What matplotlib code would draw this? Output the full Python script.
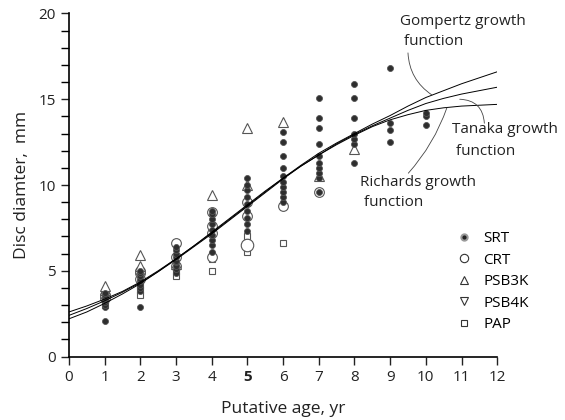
import matplotlib.pyplot as plt
from matplotlib.lines import Line2D

plt.rcParams['font.family'] = ['Open Sans', 'DejaVu Sans']

# growth curves (age, disc diameter)
curve_age = [0, 0.5, 1, 1.5, 2, 2.5, 3, 3.5, 4, 4.5, 5, 5.5, 6, 6.5, 7, 7.5, 8,
             8.5, 9, 9.5, 10, 10.5, 11, 11.5, 12]
gompertz = [2.6, 2.95, 3.35, 3.8, 4.35, 5.0, 5.7, 6.45, 7.2, 8.0, 8.8, 9.6, 10.4,
            11.15, 11.85, 12.45, 13.0, 13.55, 14.05, 14.6, 15.1, 15.5, 15.9, 16.25, 16.6]
tanaka = [2.4, 2.8, 3.25, 3.75, 4.3, 4.95, 5.65, 6.4, 7.15, 7.95, 8.75, 9.55, 10.35,
          11.1, 11.75, 12.4, 12.95, 13.45, 13.9, 14.35, 14.75, 15.05, 15.3, 15.5, 15.7]
richards = [2.2, 2.6, 3.1, 3.65, 4.25, 4.95, 5.7, 6.45, 7.25, 8.05, 8.85, 9.65, 10.4,
            11.1, 11.75, 12.35, 12.9, 13.4, 13.8, 14.1, 14.35, 14.5, 14.6, 14.65, 14.7]

# observations per group: age -> diameters
srt = {
    1: [2.1, 2.9, 3.0, 3.2, 3.3, 3.4, 3.5, 3.6, 3.7],
    2: [2.9, 3.8, 4.0, 4.2, 4.4, 4.5, 4.7, 4.9, 5.0],
    3: [4.9, 5.1, 5.3, 5.5, 5.6, 5.8, 6.0, 6.2, 6.4],
    4: [6.1, 6.5, 6.8, 7.1, 7.4, 7.7, 8.0, 8.3, 8.5],
    5: [7.3, 7.7, 8.1, 8.5, 8.9, 9.3, 9.7, 10.0, 10.4],
    6: [9.0, 9.3, 9.6, 9.9, 10.2, 10.5, 11.0, 11.7, 12.5, 13.1],
    7: [9.6, 10.4, 10.7, 11.0, 11.3, 11.7, 12.4, 13.3, 13.9, 15.1],
    8: [11.3, 12.4, 12.7, 13.0, 13.9, 15.1, 15.9],
    9: [12.5, 13.2, 13.6, 16.8],
    10: [13.5, 14.0, 14.2],
}
crt = {1: [3.4, 3.6], 2: [4.5, 4.9, 5.0], 3: [5.3, 5.8, 6.6],
       4: [5.8, 7.2, 7.6, 8.4], 5: [8.2, 9.0], 6: [8.8], 7: [9.6]}
crt_big = {5: [6.5]}
psb3k = {1: [3.9, 4.1], 2: [5.3, 5.9], 3: [5.4], 4: [9.4], 5: [10.0, 13.35],
         6: [13.7], 7: [10.5], 8: [12.1]}
pap = {1: [3.0, 3.3], 2: [3.6, 3.9, 4.2], 3: [4.7, 5.0], 4: [5.0, 5.7, 5.9],
       5: [6.1, 7.0], 6: [6.6]}

x_ticks = list(range(0, 13))
y_ticks = [0, 5, 10, 15, 20]


def flat(d):
    xs, ys = [], []
    for k, v in d.items():
        xs += [k] * len(v)
        ys += v
    return xs, ys


fig = plt.figure(figsize=(5.65, 4.2), dpi=100)
ax = fig.add_axes([0.122, 0.151, 0.758, 0.817])

gray = '#555555'
x, y = flat(pap)
ax.plot(x, y, 's', ms=4.5, mfc='white', mec=gray, mew=0.8, ls='none')
x, y = flat(crt)
ax.plot(x, y, 'o', ms=7, mfc='white', mec=gray, mew=0.8, ls='none')
x, y = flat(crt_big)
ax.plot(x, y, 'o', ms=9, mfc='white', mec=gray, mew=0.8, ls='none')
x, y = flat(psb3k)
ax.plot(x, y, '^', ms=7.5, mfc='white', mec=gray, mew=0.8, ls='none')
x, y = flat(srt)
ax.plot(x, y, 'o', ms=4.3, mfc='#2e2e2e', mec='#555555', mew=0.6, ls='none')

for c in (gompertz, tanaka, richards):
    ax.plot(curve_age, c, color='black', lw=0.7)

ax.set_xlim(0, 12)
ax.set_ylim(0, 20)
ax.spines['top'].set_visible(False)
ax.spines['right'].set_visible(False)
ax.spines['left'].set_linewidth(1.2)
ax.spines['bottom'].set_linewidth(1.2)
ax.set_xticks(x_ticks)
ax.set_xticklabels([str(t) for t in x_ticks])
ax.get_xticklabels()[5].set_fontweight('bold')
ax.set_yticks(y_ticks)
ax.set_yticks(range(0, 21), minor=True)
ax.tick_params(axis='both', direction='out', length=6, width=1, labelsize=11,
               color='#222222', labelcolor='#222222')
ax.tick_params(axis='y', which='minor', length=6, width=1)
ax.set_xlabel('Putative age, yr', fontsize=12.5, color='#222222', labelpad=12)
ax.set_ylabel('Disc diamter,  mm', fontsize=12.5, color='#222222', labelpad=6)

# curve labels
txt = dict(fontsize=11, color='#222222', ha='left', va='center')
ax.text(9.28, 18.95, 'Gompertz growth\n function', linespacing=1.5, **txt)
ax.text(10.73, 12.6, 'Tanaka growth\n function', linespacing=1.7, **txt)
ax.text(8.16, 9.55, 'Richards growth\n function', linespacing=1.5, **txt)

# curved leader lines
lead = dict(arrowstyle='-', lw=0.6, color='#444444', shrinkA=0, shrinkB=0)
ax.annotate('', xy=(10.17, 15.25), xytext=(9.5, 17.7),
            arrowprops=dict(connectionstyle='arc3,rad=0.25', **lead))
ax.annotate('', xy=(10.95, 15.0), xytext=(11.64, 13.6),
            arrowprops=dict(connectionstyle='arc3,rad=0.45', **lead))
ax.annotate('', xy=(10.59, 14.5), xytext=(9.51, 10.69),
            arrowprops=dict(connectionstyle='arc3,rad=0.1', **lead))

srt_handle = (Line2D([], [], marker='o', ls='none', ms=5, mfc='#9a9a9a', mec='#9a9a9a'),
              Line2D([], [], marker='o', ls='none', ms=2, mfc='#222222', mec='#222222'))
handles = [
    srt_handle,
    Line2D([], [], marker='o', ls='none', ms=6, mfc='white', mec='#333333', mew=0.8),
    Line2D([], [], marker='^', ls='none', ms=6, mfc='white', mec='#333333', mew=0.8),
    Line2D([], [], marker='v', ls='none', ms=6, mfc='white', mec='#333333', mew=0.8),
    Line2D([], [], marker='s', ls='none', ms=4.5, mfc='white', mec='#333333', mew=0.8),
]
ax.legend(handles, ['SRT', 'CRT', 'PSB3K', 'PSB4K', 'PAP'], loc='upper left',
          bbox_to_anchor=(0.9, 0.365), frameon=False, fontsize=11,
          handletextpad=0.7, labelspacing=0.42, handlelength=1.2,
          borderaxespad=0, borderpad=0)

fig.savefig('out.png', dpi=100)
